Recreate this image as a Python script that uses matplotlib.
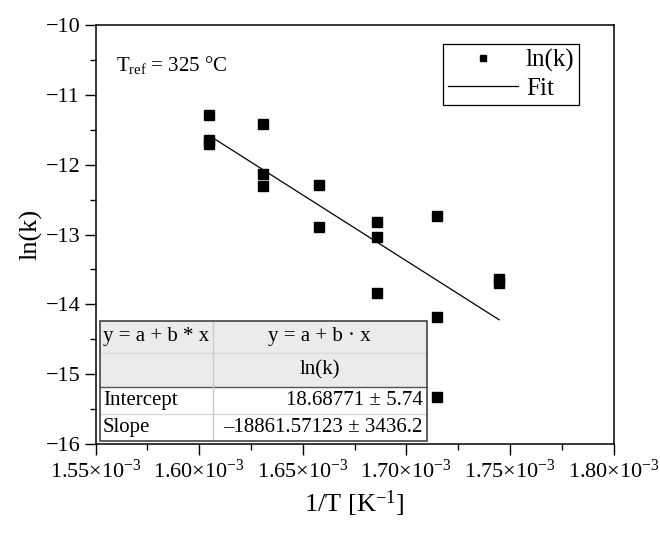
import numpy as np
import matplotlib
matplotlib.use("Agg")
import matplotlib.pyplot as plt
from matplotlib.patches import Rectangle
from matplotlib.ticker import FuncFormatter, MultipleLocator

# --- Data ---
inv_T = [1.60475e-3, 1.60475e-3, 1.60475e-3,
         1.63092e-3, 1.63092e-3, 1.63092e-3,
         1.65796e-3, 1.65796e-3,
         1.68591e-3, 1.68591e-3, 1.68591e-3,
         1.71483e-3, 1.71483e-3, 1.71483e-3,
         1.74476e-3, 1.74476e-3]
ln_k = [-11.29, -11.65, -11.70,
        -11.42, -12.13, -12.31,
        -12.29, -12.89,
        -12.82, -13.04, -13.84,
        -12.74, -14.18, -15.33,
        -13.64, -13.69]

# --- Linear fit results shown in the table ---
intercept, intercept_err = 18.68771, 5.74
slope, slope_err = -18861.57123, 3436.2

table_rows = [
    ("y = a + b * x", "y = a + b \u00b7 x"),
    ("", "ln(k)"),
    ("Intercept", f"{intercept:.5f} \u00b1 {intercept_err:.2f}"),
    ("Slope", f"\u2013{abs(slope):.5f} \u00b1 {slope_err:.1f}"),
]

plt.rcParams["font.family"] = ["Liberation Serif", "DejaVu Serif"]
plt.rcParams["mathtext.fontset"] = "custom"
plt.rcParams["mathtext.rm"] = "Liberation Serif"
plt.rcParams["mathtext.it"] = "Liberation Serif:italic"

fig = plt.figure(figsize=(6.6, 5.37), dpi=100)
ax = fig.add_axes([0.1447, 0.1732, 0.785, 0.7802])

ax.plot(inv_T, ln_k, "ks", ms=6.5, ls="none", label="ln(k)")
x_fit = np.array([min(inv_T), max(inv_T)])
ax.plot(x_fit, intercept + slope * x_fit, "k-", lw=0.9, label="Fit")

ax.set_xlim(1.55e-3, 1.80e-3)
ax.set_ylim(-16, -10)
ax.xaxis.set_major_locator(MultipleLocator(0.05e-3))
ax.xaxis.set_minor_locator(MultipleLocator(0.025e-3))
ax.yaxis.set_major_locator(MultipleLocator(1))
ax.yaxis.set_minor_locator(MultipleLocator(0.5))
ax.xaxis.set_major_formatter(FuncFormatter(
    lambda v, p: f"{v * 1e3:.2f}\u00d710$^{{\\mathrm{{-3}}}}$"))
ax.yaxis.set_major_formatter(FuncFormatter(lambda v, p: f"\u2212{abs(v):.0f}"))
ax.tick_params(which="both", direction="out", top=False, right=False,
               labelsize=16, width=1)
ax.tick_params(which="major", length=8, pad=3)
ax.tick_params(which="minor", length=4)
for s in ax.spines.values():
    s.set_linewidth(1.1)

ax.set_xlabel("1/T [K$^{\\mathrm{-1}}$]", fontsize=19, labelpad=4)
ax.set_ylabel("ln(k)", fontsize=19, labelpad=2)

ax.text(0.04, 0.905, "T$_{\\mathrm{ref}}$ = 325 \u00b0C", transform=ax.transAxes,
        fontsize=15, va="center")

leg = ax.legend(loc="upper right", bbox_to_anchor=(0.934, 0.954), borderaxespad=0,
                fontsize=18, fancybox=False, edgecolor="black", framealpha=1,
                handlelength=2.8, markerscale=0.75, borderpad=0.2,
                labelspacing=0.2, handletextpad=0.3)
leg.get_frame().set_linewidth(0.9)

# --- Fit table drawn in the lower left corner ---
cols = [0.0087, 0.2262, 0.6398]
rows = [0.2943, 0.2165, 0.1353, 0.0716, 0.0075]
for i, (left_txt, right_txt) in enumerate(table_rows):
    top, bot = rows[i], rows[i + 1]
    face = "#ebebeb" if i < 2 else "white"
    ax.add_patch(Rectangle((cols[0], bot), cols[2] - cols[0], top - bot,
                           transform=ax.transAxes, facecolor=face,
                           edgecolor="none", zorder=5))
    ym = (top + bot) / 2
    ax.text(cols[0] + 0.006, ym, left_txt, transform=ax.transAxes,
            fontsize=15, va="center", ha="left", zorder=6)
    if i < 2:
        ax.text((cols[1] + cols[2]) / 2, ym, right_txt, transform=ax.transAxes,
                fontsize=15, va="center", ha="center", zorder=6)
    else:
        ax.text(cols[2] - 0.008, ym, right_txt, transform=ax.transAxes,
                fontsize=15, va="center", ha="right", zorder=6)
# grid lines of the table
for i, y in enumerate(rows[1:-1]):
    color = "#555555" if i == 1 else "#d8d8d8"
    ax.plot([cols[0], cols[2]], [y, y], transform=ax.transAxes, color=color,
            lw=1, zorder=7)
ax.plot([cols[1], cols[1]], [rows[-1], rows[0]], transform=ax.transAxes,
        color="#c8c8c8", lw=1, zorder=7)
ax.add_patch(Rectangle((cols[0], rows[-1]), cols[2] - cols[0], rows[0] - rows[-1],
                       transform=ax.transAxes, facecolor="none",
                       edgecolor="#444444", lw=1.2, zorder=8))

fig.savefig("out.png", dpi=100)
